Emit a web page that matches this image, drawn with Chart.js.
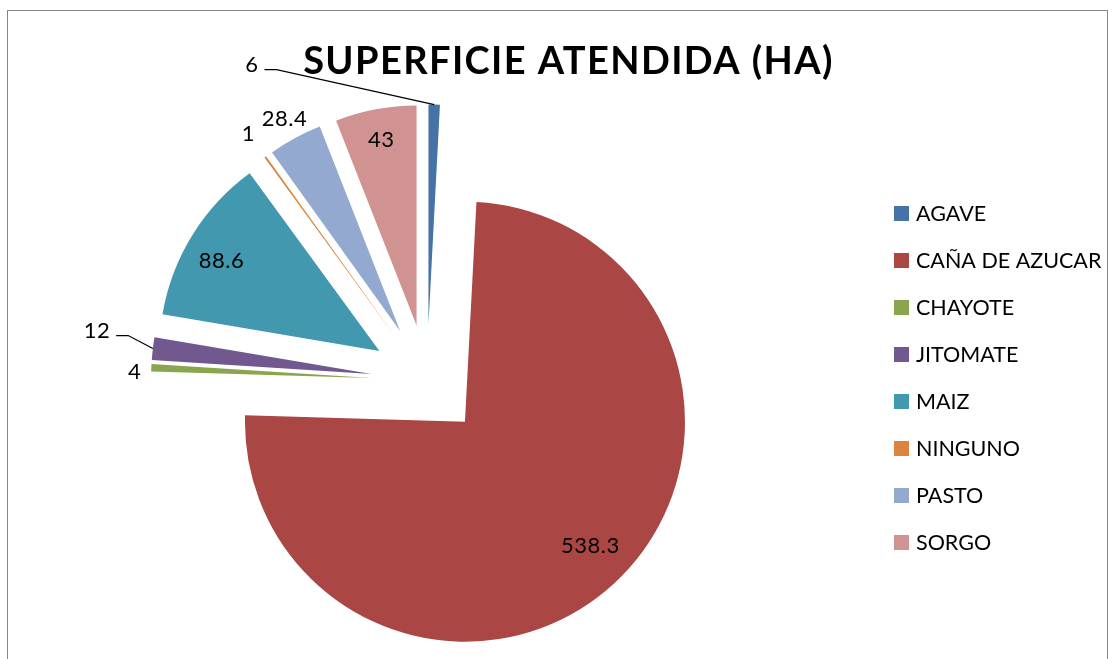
<!DOCTYPE html>
<html><head><meta charset="utf-8">
<script src="https://cdn.jsdelivr.net/npm/chart.js@4/dist/chart.umd.min.js"></script>
<style>html,body{margin:0;padding:0;background:#fff}#wrap{width:1115px;height:659px}</style>
</head><body><div id="wrap"><canvas id="c" width="1115" height="659"></canvas></div>
<script>
const chartTitle = 'SUPERFICIE ATENDIDA (HA)';
const categories = ['AGAVE', 'CAÑA DE AZUCAR', 'CHAYOTE', 'JITOMATE', 'MAIZ', 'NINGUNO', 'PASTO', 'SORGO'];
const values = [6, 538.3, 4, 12, 88.6, 1, 28.4, 43];
const colors = ['#4572A7', '#AA4643', '#89A54E', '#71588F', '#4198AF', '#DB843D', '#93A9CF', '#D19392'];
// label placement (style): distance from slice tip in radius units, angle (deg clockwise from top, null = slice middle), leader line
const labelRadius = [1.428, 0.803, 1.075, 1.263, 0.826, 1.13, 1.10, 0.86];
const labelAngle = [325.8, 134.8, 271.4, 279, 299.7, null, null, null];
const labelLeader = [true, false, false, true, false, false, false, false];

const EXPLODE = 56, RADIUS = 220;
const FONT = 'Lato, "Open Sans", sans-serif';

const explodePlugin = {
  id: 'explode',
  afterDatasetUpdate(chart, args) {
    args.meta.data.forEach(arc => {
      const mid = (arc.startAngle + arc.endAngle) / 2;
      arc.x += EXPLODE * Math.cos(mid);
      arc.y += EXPLODE * Math.sin(mid);
    });
  }
};

const decorPlugin = {
  id: 'decor',
  beforeDraw(chart) {
    const c = chart.ctx;
    c.save();
    c.fillStyle = '#fff';
    c.fillRect(0, 0, chart.width, chart.height);
    c.strokeStyle = '#868686';
    c.lineWidth = 1;
    c.strokeRect(7.5, 10.5, 1100, 700);
    c.restore();
  },
  afterDatasetsDraw(chart) {
    const c = chart.ctx;
    const arcs = chart.getDatasetMeta(0).data;
    c.save();
    // data labels
    c.font = '22px ' + FONT;
    c.letterSpacing = '0.5px';
    c.fillStyle = '#000';
    c.textAlign = 'center';
    c.textBaseline = 'middle';
    arcs.forEach((arc, i) => {
      const mid = (arc.startAngle + arc.endAngle) / 2;
      const a = labelAngle[i] === null ? mid : (labelAngle[i] - 90) * Math.PI / 180;
      const r = labelRadius[i] * arc.outerRadius;
      const lx = arc.x + r * Math.cos(a);
      const ly = arc.y + r * Math.sin(a);
      const txt = String(values[i]);
      c.fillText(txt, lx, ly);
      if (labelLeader[i]) {
        const w = c.measureText(txt).width;
        const sx = lx + w / 2 + 6, sy = ly + 5;
        const ex = arc.x + arc.outerRadius * Math.cos(mid);
        const ey = arc.y + arc.outerRadius * Math.sin(mid);
        c.beginPath();
        c.strokeStyle = '#000';
        c.lineWidth = 1.3;
        c.moveTo(sx, sy);
        c.lineTo(sx + 12, sy);
        c.lineTo(ex, ey);
        c.stroke();
      }
    });
    // title
    c.font = 'bold 38px ' + FONT;
    c.letterSpacing = '1.4px';
    c.textBaseline = 'alphabetic';
    c.fillText(chartTitle, 568.5, 74);
    // legend
    c.font = '21.5px ' + FONT;
    c.letterSpacing = '0px';
    c.textAlign = 'left';
    c.textBaseline = 'middle';
    categories.forEach((name, i) => {
      const cy = 213.5 + 47 * i;
      c.fillStyle = colors[i];
      c.fillRect(894, cy - 7.5, 15, 15);
      c.fillStyle = '#000';
      c.fillText(name, 916, cy + 1);
    });
    c.restore();
  }
};

new Chart(document.getElementById('c'), {
  type: 'pie',
  data: {
    labels: categories,
    datasets: [{ data: values, backgroundColor: colors, borderWidth: 0 }]
  },
  options: {
    responsive: false,
    animation: false,
    events: [],
    radius: RADIUS,
    layout: { padding: { left: 0, right: 261, top: 102, bottom: 0 } },
    plugins: { legend: { display: false }, tooltip: { enabled: false }, title: { display: false } }
  },
  plugins: [explodePlugin, decorPlugin]
});
</script>
</body></html>
